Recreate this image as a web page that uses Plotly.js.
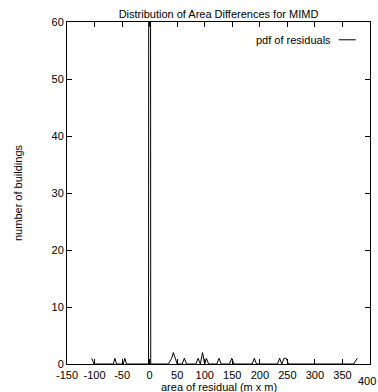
<!DOCTYPE html>
<html>
<head>
<meta charset="utf-8">
<script src="https://cdn.plot.ly/plotly-3.0.1.min.js"></script>
<style>html,body{margin:0;padding:0;background:#fff;}#chart{width:378px;height:392px;}</style>
</head>
<body>
<div id="chart"></div>
<script>
// residual area (m x m)
var residualX = [-105, -101, -66, -63, -60, -48, -45, -42, -2, 0, 2, 34, 40, 43, 50, 59, 63, 67, 84, 88, 92, 96, 100, 103, 107, 122, 126, 130, 145, 149, 153, 186, 190, 194, 232, 236, 240, 244, 248, 252, 370, 377];
// number of buildings
var buildingCount = [1, 0, 0, 1, 0, 0, 1, 0, 0, 400, 0, 0, 1, 2, 0, 0, 1, 0, 0, 1, 0, 2, 0, 1, 0, 0, 1, 0, 0, 1, 0, 0, 1, 0, 0, 1, 0, 1, 1, 0, 0, 1];
var xTicks = [-150, -100, -50, 0, 50, 100, 150, 200, 250, 300, 350, 400];
var yTicks = [0, 10, 20, 30, 40, 50, 60];
var seriesName = "pdf of residuals";
var xTitle = "area of residual (m x m)";

var font = {family: "Liberation Sans, Arial, sans-serif", size: 11, color: "#000"};
var lastTick = xTicks[xTicks.length - 1];

var trace = {
  x: residualX, y: buildingCount, type: "scatter", mode: "lines",
  line: {color: "#000", width: 1}, name: seriesName, showlegend: false,
  cliponaxis: true
};

var layout = {
  width: 378, height: 392,
  margin: {l: 67, r: 8, t: 22, b: 28, pad: 0},
  paper_bgcolor: "#fff", plot_bgcolor: "#fff",
  font: font,
  title: {text: "Distribution of Area Differences for MIMD", font: font, x: 0.578, xanchor: "center", y: 0.975, yanchor: "top"},
  xaxis: {
    range: [-150, 400], tickvals: xTicks,
    ticktext: xTicks.map(function (v) { return v === lastTick ? "" : String(v); }),
    ticks: "inside", ticklen: 5, tickcolor: "#000", tickwidth: 1,
    showline: true, linecolor: "#000", linewidth: 1, mirror: "ticks",
    showgrid: false, zeroline: false, automargin: false,
    ticklabeloverflow: "allow", ticklabelstandoff: 1,
    tickfont: font
  },
  yaxis: {
    range: [0, 60], tickvals: yTicks, ticktext: yTicks.map(String),
    ticks: "inside", ticklen: 5, tickcolor: "#000", tickwidth: 1,
    showline: true, linecolor: "#000", linewidth: 1, mirror: "ticks",
    showgrid: false, zeroline: false, automargin: false,
    tickfont: font,
    title: {text: "number of buildings", font: font, standoff: 26}
  },
  annotations: [{
    xref: "paper", yref: "paper", x: 0.878, y: 0.948, xanchor: "right", yanchor: "middle",
    text: seriesName, showarrow: false, font: font
  }, {
    xref: "paper", yref: "paper", x: 1, y: 0, xanchor: "right", yanchor: "top",
    xshift: 7, yshift: -10, text: String(lastTick), showarrow: false, font: font, borderpad: 0
  }, {
    xref: "paper", yref: "paper", x: 0.5, y: 0, xanchor: "center", yanchor: "top",
    yshift: -16, text: xTitle, showarrow: false, font: font, borderpad: 0
  }],
  shapes: [{
    type: "line", xref: "paper", yref: "paper", x0: 0.897, x1: 0.953, y0: 0.948, y1: 0.948,
    line: {color: "#000", width: 1}
  }]
};

Plotly.newPlot("chart", [trace], layout, {displayModeBar: false, staticPlot: true});
</script>
</body>
</html>
